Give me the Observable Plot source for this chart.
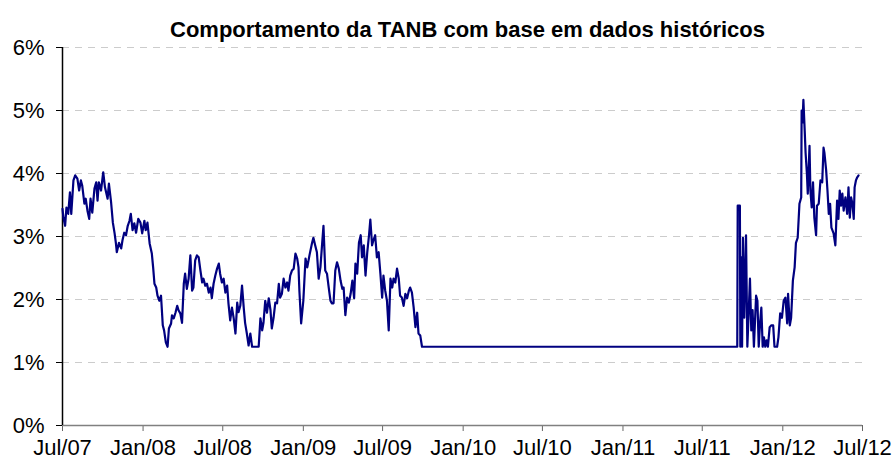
<!DOCTYPE html>
<html><head><meta charset="utf-8">
<script src="https://cdn.jsdelivr.net/npm/d3@7"></script>
<script src="https://cdn.jsdelivr.net/npm/@observablehq/plot@0.6"></script>
<style>html,body{margin:0;padding:0;background:#fff} svg{display:block}</style>
</head><body><div id="chart"></div>
<script>
const title = "Comportamento da TANB com base em dados históricos";
const yTicks = [0, 1, 2, 3, 4, 5, 6];
const xTickDates = ["2007-07-01","2008-01-01","2008-07-01","2009-01-01","2009-07-01","2010-01-01","2010-07-01","2011-01-01","2011-07-01","2012-01-01","2012-07-01"];
const dates = [
"2007-07-01","2007-07-03","2007-07-07","2007-07-10","2007-07-14","2007-07-18","2007-07-21","2007-07-26","2007-07-30","2007-08-04",
"2007-08-08","2007-08-12","2007-08-15","2007-08-20","2007-08-23","2007-08-27","2007-08-31","2007-09-03","2007-09-07","2007-09-12",
"2007-09-16","2007-09-19","2007-09-22","2007-09-27","2007-10-02","2007-10-06","2007-10-12","2007-10-15","2007-10-20","2007-10-24",
"2007-10-28","2007-10-31","2007-11-02","2007-11-07","2007-11-12","2007-11-15","2007-11-19","2007-11-23","2007-11-27","2007-12-01",
"2007-12-04","2007-12-08","2007-12-12","2007-12-16","2007-12-21","2007-12-26","2007-12-30","2008-01-04","2008-01-07","2008-01-11",
"2008-01-16","2008-01-21","2008-01-24","2008-01-27","2008-01-31","2008-02-03","2008-02-07","2008-02-11","2008-02-15","2008-02-18",
"2008-02-22","2008-02-26","2008-02-29","2008-03-05","2008-03-07","2008-03-11","2008-03-15","2008-03-19","2008-03-22","2008-03-26",
"2008-03-30","2008-04-03","2008-04-06","2008-04-10","2008-04-14","2008-04-18","2008-04-22","2008-04-25","2008-04-29","2008-05-03",
"2008-05-07","2008-05-11","2008-05-15","2008-05-18","2008-05-22","2008-05-26","2008-05-30","2008-06-03","2008-06-06","2008-06-10",
"2008-06-14","2008-06-18","2008-06-22","2008-06-25","2008-06-29","2008-07-03","2008-07-07","2008-07-11","2008-07-14","2008-07-18",
"2008-07-22","2008-07-26","2008-07-30","2008-08-03","2008-08-06","2008-08-10","2008-08-14","2008-08-18","2008-08-21","2008-08-25",
"2008-08-29","2008-09-02","2008-09-06","2008-09-21","2008-09-25","2008-09-29","2008-10-02","2008-10-06","2008-10-10","2008-10-14",
"2008-10-18","2008-10-21","2008-10-25","2008-10-29","2008-11-02","2008-11-06","2008-11-09","2008-11-13","2008-11-17","2008-11-21",
"2008-11-25","2008-11-28","2008-12-02","2008-12-06","2008-12-10","2008-12-14","2008-12-18","2008-12-21","2008-12-23","2008-12-27",
"2009-01-01","2009-01-06","2009-01-10","2009-01-15","2009-01-21","2009-01-24","2009-01-28","2009-02-01","2009-02-05","2009-02-09",
"2009-02-13","2009-02-16","2009-02-20","2009-02-24","2009-02-28","2009-03-04","2009-03-07","2009-03-11","2009-03-15","2009-03-19",
"2009-03-23","2009-03-27","2009-03-31","2009-04-03","2009-04-07","2009-04-11","2009-04-15","2009-04-19","2009-04-23","2009-04-27",
"2009-04-30","2009-05-04","2009-05-08","2009-05-12","2009-05-15","2009-05-19","2009-05-23","2009-05-27","2009-05-31","2009-06-03",
"2009-06-07","2009-06-10","2009-06-14","2009-06-18","2009-06-22","2009-06-26","2009-06-30","2009-07-03","2009-07-07","2009-07-11",
"2009-07-15","2009-07-19","2009-07-23","2009-07-26","2009-07-30","2009-08-03","2009-08-07","2009-08-10","2009-08-14","2009-08-18",
"2009-08-22","2009-08-26","2009-08-30","2009-09-02","2009-09-06","2009-09-10","2009-09-14","2009-09-18","2009-09-21","2009-09-25",
"2009-09-29","2011-09-19","2011-09-20","2011-09-25","2011-09-26","2011-09-28","2011-09-30","2011-10-02","2011-10-05","2011-10-09",
"2011-10-12","2011-10-15","2011-10-18","2011-10-21","2011-10-24","2011-10-27","2011-11-01","2011-11-04","2011-11-07","2011-11-10",
"2011-11-13","2011-11-16","2011-11-19","2011-11-22","2011-11-25","2011-11-28","2011-12-02","2011-12-06","2011-12-10","2011-12-13",
"2011-12-19","2011-12-22","2011-12-26","2011-12-30","2012-01-03","2012-01-07","2012-01-11","2012-01-13","2012-01-17","2012-01-20",
"2012-01-24","2012-01-28","2012-01-31","2012-02-04","2012-02-08","2012-02-12","2012-02-13","2012-02-15","2012-02-17","2012-02-20",
"2012-02-22","2012-02-25","2012-02-27","2012-03-02","2012-03-04","2012-03-07","2012-03-10","2012-03-13","2012-03-17","2012-03-19",
"2012-03-23","2012-03-27","2012-03-31","2012-04-03","2012-04-05","2012-04-09","2012-04-12","2012-04-15","2012-04-18","2012-04-21",
"2012-04-26","2012-04-30","2012-05-04","2012-05-07","2012-05-10","2012-05-13","2012-05-16","2012-05-19","2012-05-23","2012-05-27",
"2012-05-30","2012-06-02","2012-06-05","2012-06-08","2012-06-11","2012-06-13","2012-06-16","2012-06-19","2012-06-22"
];
const rates = [
3.44,3.30,3.17,3.46,3.36,3.70,3.36,3.89,3.97,3.92,
3.73,3.89,3.81,3.52,3.60,3.41,3.28,3.60,3.38,3.76,
3.86,3.57,3.86,3.73,4.02,3.78,3.60,3.84,3.54,3.22,
3.05,2.89,2.75,2.90,2.81,2.94,3.06,3.02,3.17,3.25,
3.36,3.10,3.21,3.06,3.28,3.22,3.05,3.25,3.10,3.22,
2.89,2.73,2.51,2.25,2.19,2.06,1.98,2.06,1.59,1.51,
1.32,1.25,1.54,1.62,1.75,1.70,1.79,1.90,1.83,1.78,
1.63,2.25,2.41,2.17,2.33,2.70,2.14,2.19,2.62,2.70,
2.67,2.46,2.27,2.33,2.22,2.25,2.11,2.19,2.02,2.25,
2.38,2.49,2.57,2.41,2.27,2.33,2.11,2.22,1.94,1.67,
1.87,1.70,1.46,1.95,1.80,1.90,2.22,1.86,1.63,1.46,
1.27,1.46,1.25,1.25,1.70,1.51,1.63,1.98,1.79,2.02,
1.83,1.54,1.71,1.95,1.94,2.25,2.03,2.09,2.33,2.19,
2.27,2.14,2.38,2.46,2.49,2.73,2.65,2.51,2.14,1.62,
1.98,2.65,2.51,2.70,2.90,2.98,2.86,2.75,2.33,2.51,
2.89,3.17,2.46,2.41,2.19,1.98,1.94,1.94,2.46,2.59,
2.49,2.30,2.17,2.19,1.75,2.03,1.95,2.09,2.30,2.02,
2.57,2.41,2.90,3.02,2.67,2.86,2.38,2.75,3.02,3.27,
2.86,2.94,3.02,2.67,2.75,2.41,2.03,2.38,2.14,1.98,
1.51,2.33,2.19,2.33,2.27,2.49,2.33,2.06,2.03,1.90,
2.09,2.02,2.14,2.19,2.11,1.87,1.56,1.79,1.46,1.43,
1.25,1.25,3.49,3.49,1.25,2.67,1.25,2.98,1.71,3.02,
1.25,1.78,2.33,1.51,1.83,1.25,2.06,1.98,1.25,1.62,
1.87,1.25,1.40,1.25,1.35,1.25,1.56,1.59,1.59,1.25,
1.25,1.40,1.78,1.71,1.98,2.03,1.62,2.09,1.59,1.71,
2.30,2.51,2.90,2.98,3.52,3.62,5.00,4.81,5.17,4.68,
4.33,4.00,3.68,4.44,3.73,3.46,3.86,3.30,3.02,3.49,
3.52,3.89,3.86,4.41,4.33,4.05,3.73,3.36,3.52,3.14,
3.05,2.86,3.57,3.28,3.73,3.49,3.68,3.41,3.62,3.36,
3.78,3.30,3.62,3.52,3.28,3.78,3.89,3.94,3.97
];
const data = dates.map((d, i) => ({date: new Date(d), rate: rates[i]}));
const x0 = new Date(xTickDates[0]);
const x1 = new Date(xTickDates[xTickDates.length - 1]);

const chart = Plot.plot({
  width: 892, height: 466,
  marginLeft: 62, marginRight: 30, marginTop: 47, marginBottom: 41,
  style: {fontFamily: "'Liberation Sans', Arial, sans-serif", fontSize: "22px", background: "#fff", color: "#000"},
  x: {type: "utc", domain: [x0, x1], label: null},
  y: {domain: [0, 6], label: null},
  marks: [
    Plot.ruleY(yTicks.filter(v => v > 0), {stroke: "#cccccc", strokeDasharray: "7,6", strokeWidth: 1}),
    Plot.axisY({ticks: yTicks, tickFormat: d => d + "%", tickSize: 6, tickPadding: 12, stroke: "#000", fill: "#000", label: null}),
    Plot.axisX({ticks: xTickDates.map(d => new Date(d)), tickFormat: d3.utcFormat("%b/%y"), tickSize: 6, tickPadding: 8, stroke: "#666", fill: "#000", label: null}),
    Plot.ruleY([0], {stroke: "#808080", strokeWidth: 1.5}),
    Plot.ruleX([x0], {y1: 0, y2: 6, stroke: "#000", strokeWidth: 1.5}),
    Plot.line(data, {x: "date", y: "rate", stroke: "#000080", strokeWidth: 2.2}),
    Plot.text([title], {frameAnchor: "top", dx: 5, dy: -26, fontWeight: "bold", fontSize: 22, fill: "#000"})
  ]
});
document.getElementById("chart").appendChild(chart);
</script>
</body></html>
